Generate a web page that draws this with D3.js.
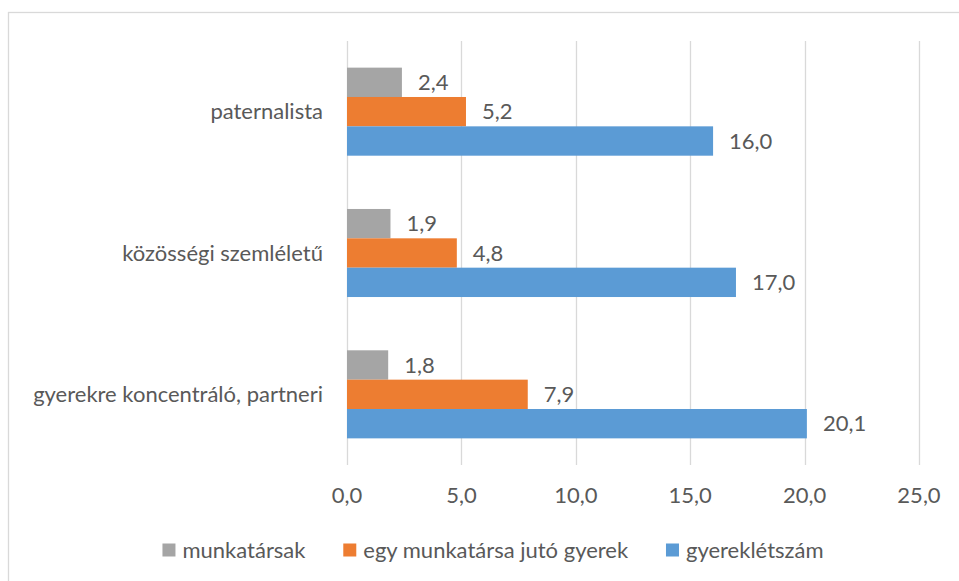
<!DOCTYPE html>
<html>
<head>
<meta charset="utf-8">
<script src="https://cdn.jsdelivr.net/npm/d3@7"></script>
<style>
    body { margin: 0; background: #fff; }
    svg { display: block; }
    text { font-family: Lato, "Open Sans", sans-serif; fill: #595959; }
</style>
</head>
<body>
<div id="chart"></div>
<script>
// chart data
var categories = ["paternalista", "közösségi szemléletű", "gyerekre koncentráló, partneri"];
var seriesNames = ["munkatársak", "egy munkatársa jutó gyerek", "gyereklétszám"];
var munkatarsak = [2.4, 1.9, 1.8];
var egyMunkatarsraJuto = [5.2, 4.8, 7.9];
var gyerekletszam = [16.0, 17.0, 20.1];
var xTicks = [0, 5, 10, 15, 20, 25];

var colors = ["#a5a5a5", "#ed7d31", "#5b9bd5"];

var width = 959;
var height = 581;
var plotLeft = 347, plotRight = 919, plotTop = 41, plotBottom = 465;
var fontSize = 22;

var seriesValues = [munkatarsak, egyMunkatarsraJuto, gyerekletszam];

var rows = categories.map((c, i) => {
    return {
        name: c,
        values: seriesNames.map((s, j) => ({ series: s, idx: j, value: seriesValues[j][i] }))
    };
});

var hu = d3.formatLocale({ decimal: ",", thousands: " ", grouping: [3], currency: ["", ""] });
var fmt = hu.format(".1f");

var svg = d3.select("#chart")
    .append("svg")
    .attr("width", width)
    .attr("height", height);

// outer frame of the chart area
svg.append("rect")
    .attr("x", 8.5)
    .attr("y", 12.5)
    .attr("width", 1000)
    .attr("height", 1000)
    .attr("fill", "none")
    .attr("stroke", "#d9d9d9")
    .attr("stroke-width", 1.3);

var x = d3.scaleLinear()
    .domain([0, 25])
    .range([plotLeft, plotRight]);

var y = d3.scaleBand()
    .domain(categories)
    .range([plotTop, plotBottom])
    .paddingInner(0.377)
    .paddingOuter(0.1885);

var ySub = d3.scaleBand()
    .domain(seriesNames)
    .range([0, y.bandwidth()]);

// gridlines
svg.append("g")
    .selectAll("line")
    .data(xTicks)
    .enter()
    .append("line")
    .attr("x1", d => Math.round(x(d)) + 0.5)
    .attr("x2", d => Math.round(x(d)) + 0.5)
    .attr("y1", plotTop)
    .attr("y2", plotBottom)
    .attr("stroke", "#d9d9d9")
    .attr("stroke-width", 1.3);

// x tick labels
svg.append("g")
    .selectAll("text")
    .data(xTicks)
    .enter()
    .append("text")
    .attr("x", d => x(d))
    .attr("y", 495)
    .attr("dy", "0.35em")
    .attr("text-anchor", "middle")
    .attr("font-size", fontSize)
    .text(d => fmt(d));

// category labels
svg.append("g")
    .selectAll("text")
    .data(categories)
    .enter()
    .append("text")
    .attr("x", 323)
    .attr("y", d => y(d) + y.bandwidth() / 2)
    .attr("dy", "0.35em")
    .attr("text-anchor", "end")
    .attr("font-size", fontSize)
    .text(d => d);

var groups = svg.selectAll("g.group")
    .data(rows)
    .enter()
    .append("g")
    .attr("class", "group")
    .attr("transform", d => `translate(0,${y(d.name)})`);

groups.selectAll("rect")
    .data(d => d.values)
    .enter()
    .append("rect")
    .attr("x", x(0))
    .attr("y", d => ySub(d.series))
    .attr("width", d => x(d.value) - x(0))
    .attr("height", ySub.bandwidth())
    .attr("fill", d => colors[d.idx]);

// value labels
groups.selectAll("text")
    .data(d => d.values)
    .enter()
    .append("text")
    .attr("x", d => x(d.value) + 16)
    .attr("y", d => ySub(d.series) + ySub.bandwidth() / 2)
    .attr("dy", "0.35em")
    .attr("font-size", fontSize)
    .text(d => fmt(d.value));

// legend
var legend = svg.append("g");
var items = legend.selectAll("g")
    .data(seriesNames)
    .enter()
    .append("g");

items.append("rect")
    .attr("width", 13)
    .attr("height", 13)
    .attr("y", 550 - 6.5)
    .attr("fill", (d, i) => colors[i]);

items.append("text")
    .attr("x", 20)
    .attr("y", 550)
    .attr("dy", "0.35em")
    .attr("font-size", fontSize)
    .text(d => d);

var pos = 0;
var offsets = [];
items.each(function () {
    offsets.push(pos);
    pos += this.getBBox().width + 37;
});
var total = pos - 37;
var startX = 493 - total / 2;
items.attr("transform", (d, i) => `translate(${startX + offsets[i]},0)`);
</script>
</body>
</html>
